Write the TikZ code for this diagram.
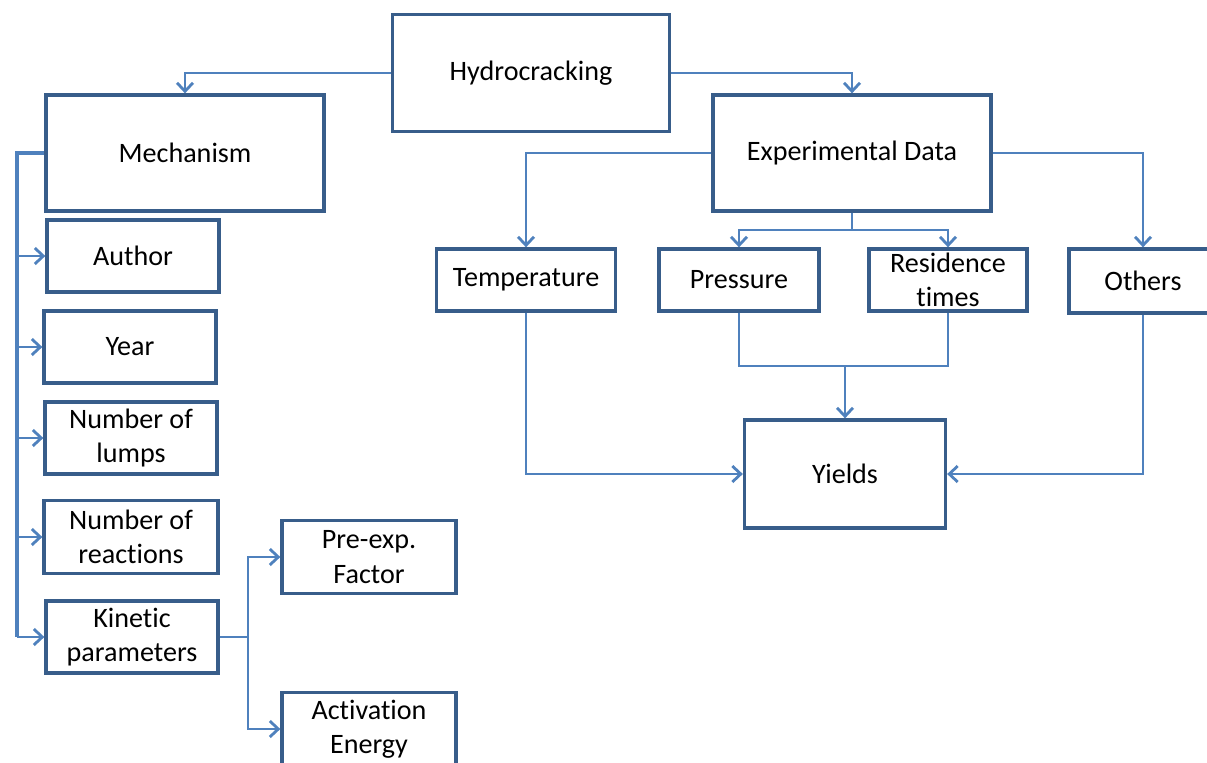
\documentclass[tikz,border=0pt]{standalone}
\usepackage{fontspec}
\setmainfont[Ligatures=NoCommon]{Carlito}
\usepackage{tikz}
\usetikzlibrary{arrows.meta,positioning,calc}
\definecolor{boxblue}{RGB}{56,93,138}
\definecolor{linkblue}{RGB}{79,129,189}
\tikzset{
    tbox/.style={draw=boxblue, line width=1.9pt, fill=white, inner sep=0pt,
                 align=center, font=\fontsize{16}{19.5}\selectfont},
    wire/.style={draw=linkblue, line width=1.6pt},
    conn/.style={wire, -{Straight Barb[length=1.7mm, width=3.2mm, line width=1.6pt]}},
}

\begin{document}
\begin{tikzpicture}[x=0.02cm, y=-0.02cm]
    \useasboundingbox (0,0) rectangle (1207,762);

    \node[tbox, minimum width=5.54cm, minimum height=2.34cm] (hydro) at (531,73) {Hydrocracking};
    \node[tbox, minimum width=5.56cm, minimum height=2.32cm] (mech) at (185,153) {Mechanism};
    \node[tbox, minimum width=5.56cm, minimum height=2.32cm] (exp) at (852,153) {Experimental Data};

    \node[tbox, minimum width=3.44cm, minimum height=1.44cm] (auth) at (133,256) {Author};
    \node[tbox, minimum width=3.44cm, minimum height=1.44cm] (year) at (130,347) {Year};
    \node[tbox, minimum width=3.44cm, minimum height=1.44cm] (lumps) at (131,438) {Number of\\lumps};
    \node[tbox, minimum width=3.48cm, minimum height=1.46cm] (react) at (131,537) {Number of\\reactions};
    \node[tbox, minimum width=3.44cm, minimum height=1.44cm] (kin) at (132,637) {Kinetic\\parameters};
    \node[tbox, minimum width=3.48cm, minimum height=1.46cm] (pre) at (369,557) {Pre-exp.\\Factor};
    \node[tbox, minimum width=3.48cm, minimum height=1.46cm] (act) at (369,729) {Activation\\Energy};

    \node[tbox, minimum width=3.58cm, minimum height=1.24cm] (temp) at (526,280) {Temperature};
    \node[tbox, minimum width=3.2cm, minimum height=1.24cm] (pres) at (739,280) {Pressure};
    \node[tbox, minimum width=3.16cm, minimum height=1.24cm] (res) at (948,280) {Residence\\times};
    \node[tbox, minimum width=2.96cm, minimum height=1.28cm] (oth) at (1143,281) {Others};
    \node[tbox, minimum width=4.02cm, minimum height=2.16cm] (yld) at (845,474) {Yields};

    \coordinate (bus) at (17,153);
    \coordinate (fork) at (248,637);
    \coordinate (split) at (852,230);
    \coordinate (join) at (845,366);

    \draw[conn] (hydro.west) -| (mech.north);
    \draw[conn] (hydro.east) -| (exp.north);

    \draw[wire, line width=2.2pt] (mech.west) -| (bus |- kin);
    \foreach \n in {auth,year,lumps,react,kin}
        \draw[conn] (bus |- \n) -- (\n.west);

    \draw[wire] (kin.east) -- (fork);
    \draw[conn] (fork) |- (pre.west);
    \draw[conn] (fork) |- (act.west);

    \draw[conn] (exp.west) -| (temp.north);
    \draw[conn] (exp.east) -| (oth.north);
    \draw[wire] (exp.south) -- (split);
    \draw[conn] (split) -| (pres.north);
    \draw[conn] (split) -| (res.north);

    \draw[wire] (pres.south) |- (join);
    \draw[wire] (res.south) |- (join);
    \draw[conn] (join) -- (yld.north);
    \draw[conn] (temp.south) |- (yld.west);
    \draw[conn] (oth.south) |- (yld.east);
\end{tikzpicture}
\end{document}
